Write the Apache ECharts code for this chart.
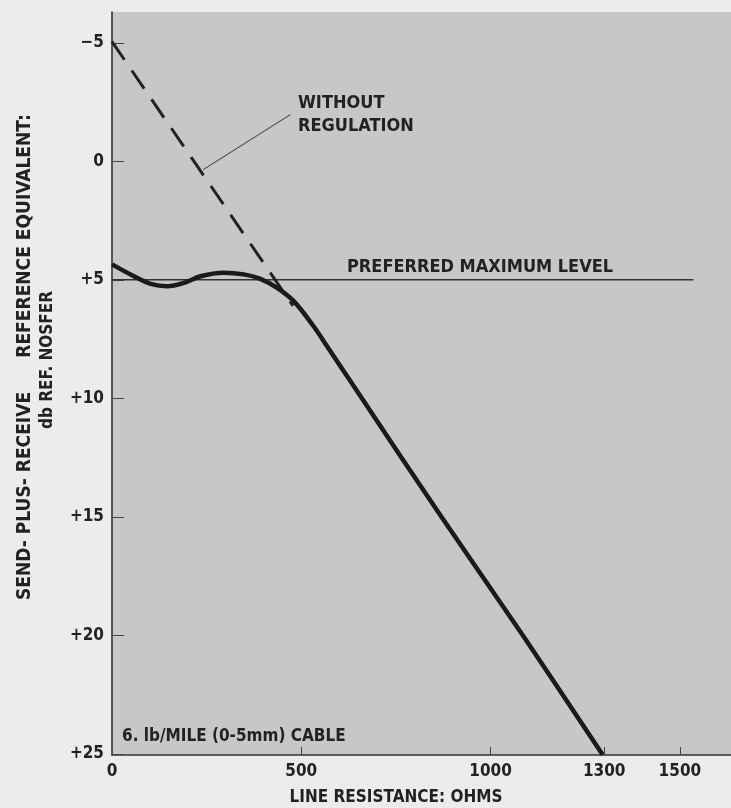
<!DOCTYPE html>
<html>
<head>
<meta charset="utf-8">
<script src="https://cdn.jsdelivr.net/npm/echarts@6/dist/echarts.min.js"></script>
<style>
html,body{margin:0;padding:0;background:#ececec;}
#c{width:731px;height:808px;}
</style>
</head>
<body>
<div id="c"></div>
<script>
// ---- data (ohms, dB ref NOSFER; larger = lower level, axis inverted) ----
var withRegulation = [
  [0, 4.35], [58, 4.85], [102, 5.17], [146, 5.27], [190, 5.13], [234, 4.85],
  [295, 4.70], [348, 4.77], [392, 4.96], [436, 5.34], [480, 5.9], [532, 6.95],
  [568, 7.8], [660, 10], [870, 15], [1085, 20], [1296, 25.04]
];
var withoutRegulation = [[0, -5.05], [478, 6.1]];
var preferredMaxLevel = [[0, 5], [1536, 5]];
var leader = [[471, -1.97], [241, 0.35]];
var xTickValues = [0, 500, 1000, 1300, 1500];
var xTickMarks = [500, 1000, 1300, 1500];
var yTickValues = [-5, 0, 5, 10, 15, 20, 25];
var yTickText = {'-5': '\u22125', '0': '0', '5': '+5', '10': '+10', '15': '+15', '20': '+20', '25': '+25'};

var FONT = '"DejaVu Sans Condensed", "Liberation Sans Narrow", "Noto Sans", sans-serif';
var INK = '#222';

function vtext(x, y, t, size) {
  return {type: 'text', x: x, y: y, rotation: Math.PI / 2,
    style: {text: t, fill: INK, font: 'bold ' + size + 'px ' + FONT, align: 'center', verticalAlign: 'middle'}};
}

var chart = echarts.init(document.getElementById('c'), null, {renderer: 'canvas'});
chart.setOption({
  animation: false,
  backgroundColor: '#ececec',
  grid: {left: 112, right: 0, top: 12, bottom: 53, show: true, backgroundColor: '#c7c7c7', borderWidth: 0},
  xAxis: {
    type: 'value', min: 0, max: 1635,
    axisLine: {show: true, onZero: false, lineStyle: {color: '#333', width: 1.6}},
    axisTick: {show: true, inside: true, length: 8, customValues: xTickMarks, lineStyle: {color: '#444', width: 1}},
    axisLabel: {customValues: xTickValues, color: INK, fontFamily: FONT, fontSize: 17, fontWeight: 'bold', margin: 8,
      formatter: function (v) { return String(v); }},
    splitLine: {show: false}
  },
  yAxis: {
    type: 'value', inverse: true, min: -6.3, max: 25.05,
    axisLine: {show: true, onZero: false, lineStyle: {color: '#333', width: 1.6}},
    axisTick: {show: true, inside: true, length: 12, customValues: yTickValues, lineStyle: {color: '#444', width: 1}},
    axisLabel: {customValues: yTickValues, color: INK, fontFamily: FONT, fontSize: 17, fontWeight: 'bold', margin: 8,
      formatter: function (v) { return yTickText[String(v)] !== undefined ? yTickText[String(v)] : ''; }},
    splitLine: {show: false}
  },
  series: [
    {type: 'line', data: preferredMaxLevel, symbol: 'none', lineStyle: {color: '#333', width: 1.5}, z: 2},
    {type: 'line', data: leader, symbol: 'none', lineStyle: {color: '#444', width: 1.1}, z: 2},
    {type: 'line', data: withoutRegulation, symbol: 'none', lineStyle: {color: '#222', width: 3, type: [22, 13]}, z: 3},
    {type: 'line', data: withRegulation, symbol: 'none', smooth: 0.35, lineStyle: {color: '#1a1a1a', width: 4.5}, z: 4}
  ],
  graphic: [
    {type: 'text', x: 298, y: 103, style: {text: 'WITHOUT', fill: INK, font: 'bold 18px ' + FONT, verticalAlign: 'middle'}},
    {type: 'text', x: 298, y: 126, style: {text: 'REGULATION', fill: INK, font: 'bold 18px ' + FONT, verticalAlign: 'middle'}},
    {type: 'text', x: 347, y: 267, style: {text: 'PREFERRED MAXIMUM LEVEL', fill: INK, font: 'bold 18px ' + FONT, verticalAlign: 'middle'}},
    {type: 'text', x: 122, y: 737, style: {text: '6. lb/MILE (0-5mm) CABLE', fill: INK, font: 'bold 17px ' + FONT, verticalAlign: 'middle'}},
    {type: 'text', x: 396, y: 798, style: {text: 'LINE RESISTANCE: OHMS', fill: INK, font: 'bold 17px ' + FONT, align: 'center', verticalAlign: 'middle'}},
    vtext(25, 236, 'REFERENCE EQUIVALENT:', 19),
    vtext(25, 496, 'SEND- PLUS- RECEIVE', 19),
    vtext(48, 360, 'db REF. NOSFER', 17)
  ]
});
</script>
</body>
</html>
